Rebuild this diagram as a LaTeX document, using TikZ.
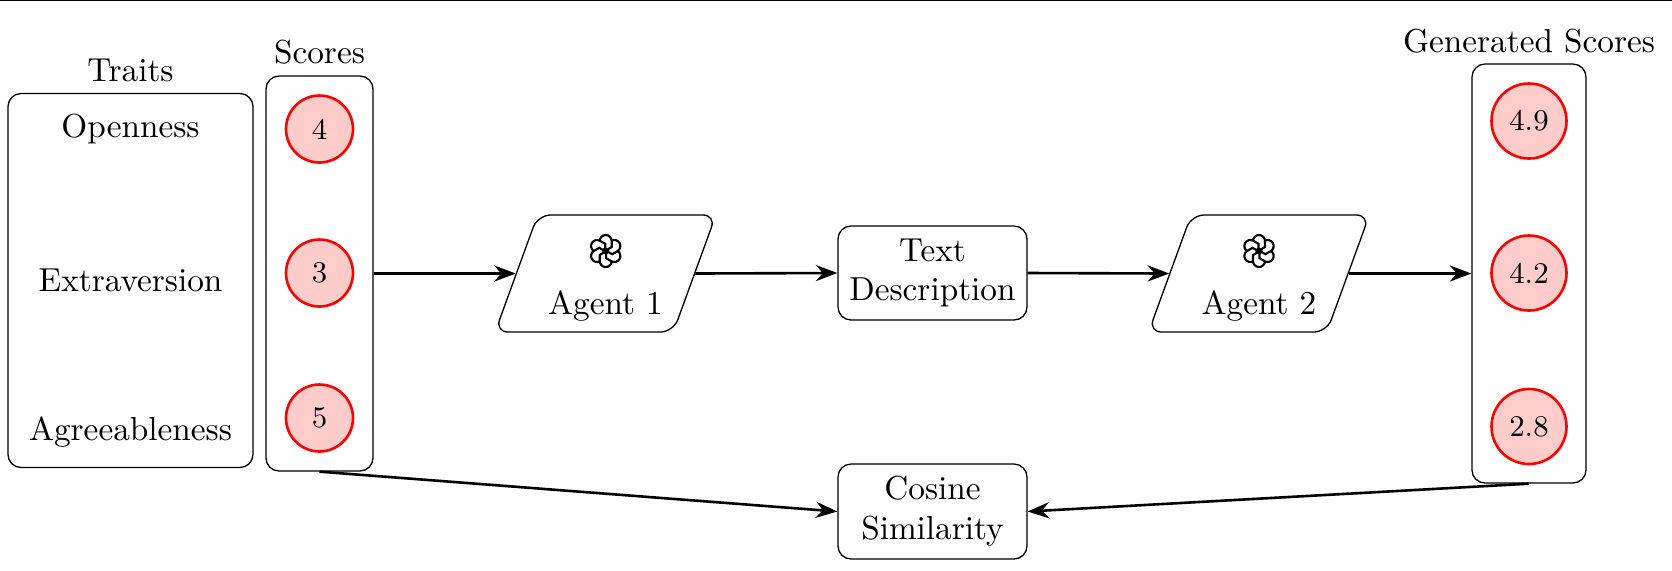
\documentclass[tikz,border=0pt]{standalone}
\usetikzlibrary{shapes.geometric,arrows.meta}
\tikzset{
  every node/.style={font=\fontsize{10.2}{12.2}\selectfont},
  box/.style={draw, rounded corners, inner sep=0pt},
  scorenode/.style={draw=red, fill=red!20, circle, thick, inner sep=0pt, font=\fontsize{9.2}{11}\selectfont},
  agent/.style={draw, rounded corners, trapezium, trapezium left angle=70, trapezium right angle=110, inner sep=0pt},
  flow/.style={->, thick},
  gptlogo/.pic={
    \foreach \a in {0,60,...,300}
      \draw [line width=0.65pt, rotate=\a] (0.06,0.10) arc [start angle=0, end angle=180, radius=0.06] -- (-0.06,0.04) -- (0.03,-0.012);
  }
}
\begin{document}
\begin{tikzpicture}[x=30.67pt, y=-30.67pt, >=Stealth]
\useasboundingbox (0,0) rectangle (16.72,5.70);

\coordinate (topL) at (0,0.005);
\coordinate (topR) at (16.72,0.005);
\draw (topL) -- (topR);

% left column
\node [box, minimum width=2.45*30.67pt, minimum height=3.74*30.67pt] (traitsbox) at (1.305,2.805) {};
\node [box, minimum width=1.07*30.67pt, minimum height=3.95*30.67pt] (scoresbox) at (3.195,2.735) {};
\node (traitslabel) at (1.305,0.70) {Traits};
\node (scoreslabel) at (3.195,0.52) {Scores};
\node (open)  at (1.305,1.29) {Openness};
\node (extra) at (1.305,2.80) {Extraversion};
\node (agree) at (1.305,4.32) {Agreeableness};

\node [scorenode, minimum size=0.67*30.67pt] (s1) at (3.195,1.29) {4};
\node [scorenode, minimum size=0.67*30.67pt] (s2) at (3.195,2.73) {3};
\node [scorenode, minimum size=0.67*30.67pt] (s3) at (3.195,4.18) {5};

% right column
\node [box, minimum width=1.14*30.67pt, minimum height=4.19*30.67pt] (genbox) at (15.29,2.735) {};
\node (genlabel) at (15.29,0.41) {Generated Scores};
\node [scorenode, minimum size=0.75*30.67pt] (g1) at (15.29,1.21) {4.9};
\node [scorenode, minimum size=0.75*30.67pt] (g2) at (15.29,2.73) {4.2};
\node [scorenode, minimum size=0.75*30.67pt] (g3) at (15.29,4.265) {2.8};

% middle row
\node [agent] (A1) at (6.055,2.735) {\phantom{\rule{41.6pt}{35.9pt}}};
\node [agent] (A2) at (12.59,2.735) {\phantom{\rule{41.6pt}{35.9pt}}};
\node (A1text) at (6.055,3.06) {Agent 1};
\node (A2text) at (12.59,3.06) {Agent 2};
\pic at (6.057,2.51) {gptlogo};
\pic at (12.59,2.51) {gptlogo};

\node [box, align=center, minimum width=1.89*30.67pt, minimum height=0.94*30.67pt] (desc) at (9.325,2.73) {Text\\Description};
\node [box, align=center, minimum width=1.89*30.67pt, minimum height=0.95*30.67pt] (cosine) at (9.325,5.115) {Cosine\\Similarity};

\draw [flow] (scoresbox.east) -- (A1.west);
\draw [flow] (A1.east) -- (desc.west);
\draw [flow] (desc.east) -- (A2.west);
\draw [flow] (A2.east) -- (genbox.west);
\draw [flow] (scoresbox.south) -- (cosine.west);
\draw [flow] (genbox.south) -- (cosine.east);

\end{tikzpicture}
\end{document}
